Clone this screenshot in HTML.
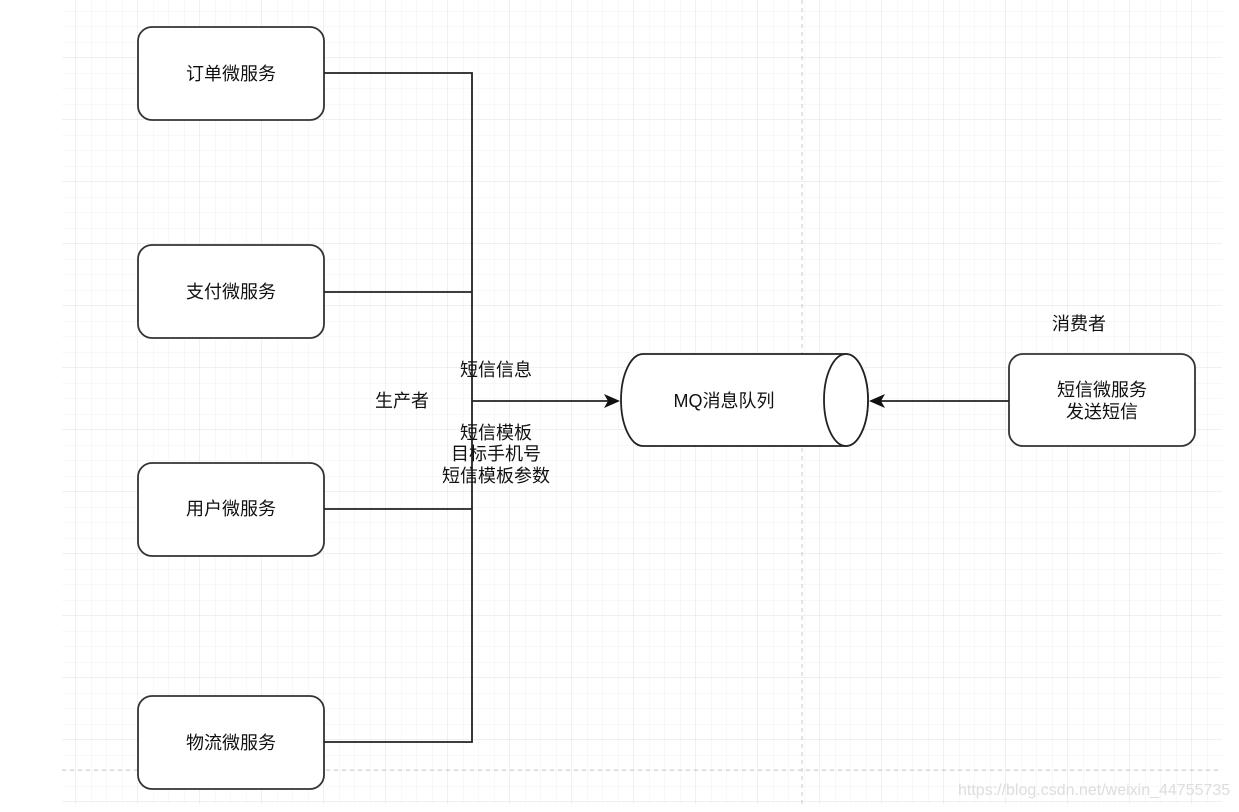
<!DOCTYPE html>
<html><head><meta charset="utf-8"><style>
body{margin:0;background:#fff;}
svg text{font-family:"Liberation Sans","Noto Sans CJK SC",sans-serif;font-size:18px;fill:#111;}
</style></head><body>
<svg width="1239" height="807" xmlns="http://www.w3.org/2000/svg">
<defs>
<pattern id="minor" x="14" y="-4" width="15.5" height="15.5" patternUnits="userSpaceOnUse">
<path d="M15.5 0V15.5M0 15.5H15.5" stroke="#f0f0f0" stroke-width="1" fill="none"/>
</pattern>
<pattern id="major" x="14" y="-4" width="62" height="62" patternUnits="userSpaceOnUse">
<path d="M62 0V62M0 62H62" stroke="#e2e2e2" stroke-width="1" fill="none"/>
</pattern>
</defs>
<rect x="62" y="0" width="1160" height="804" fill="url(#minor)"/>
<rect x="62" y="0" width="1160" height="804" fill="url(#major)"/>
<line x1="802" y1="0" x2="802" y2="807" stroke="#c8c8c8" stroke-dasharray="4,4"/>
<line x1="62" y1="770" x2="1222" y2="770" stroke="#c8c8c8" stroke-dasharray="4,4"/>
<g fill="#fff" stroke="#333" stroke-width="1.8">
<rect x="138" y="27" width="186" height="93" rx="14"/>
<rect x="138" y="245" width="186" height="93" rx="14"/>
<rect x="138" y="463" width="186" height="93" rx="14"/>
<rect x="138" y="696" width="186" height="93" rx="14"/>
<rect x="1009" y="354" width="186" height="92" rx="14"/>
</g>
<g stroke="#222" stroke-width="1.8" fill="none">
<path d="M324 73H472V742H324"/>
<path d="M324 292H472"/>
<path d="M324 509H472"/>
<path d="M472 401H612"/>
<path d="M1009 401H878"/>
</g>
<path d="M620 401L604 394L608 401L604 408Z" fill="#111"/>
<path d="M869 401L885 394L881 401L885 408Z" fill="#111"/>
<path d="M643 354H846A22 46 0 0 1 846 446H643A22 46 0 0 1 643 354Z" fill="#fff" stroke="#222" stroke-width="1.8"/>
<ellipse cx="846" cy="400" rx="22" ry="46" fill="#fff" stroke="#222" stroke-width="1.8"/>
<g text-anchor="middle">
<text x="231" y="80">订单微服务</text>
<text x="231" y="298">支付微服务</text>
<text x="231" y="515">用户微服务</text>
<text x="231" y="749">物流微服务</text>
<text x="724" y="407">MQ消息队列</text>
<text x="1102" y="396">短信微服务</text>
<text x="1102" y="418">发送短信</text>
<text x="1079" y="330">消费者</text>
<text x="402" y="407">生产者</text>
<text x="496" y="376">短信信息</text>
<text x="496" y="439">短信模板</text>
<text x="496" y="460">目标手机号</text>
<text x="496" y="482">短信模板参数</text>
</g>
<text x="958" y="795" style="font-size:16px;fill:#ddd">https://blog.csdn.net/weixin_44755735</text>
</svg>
</body></html>
